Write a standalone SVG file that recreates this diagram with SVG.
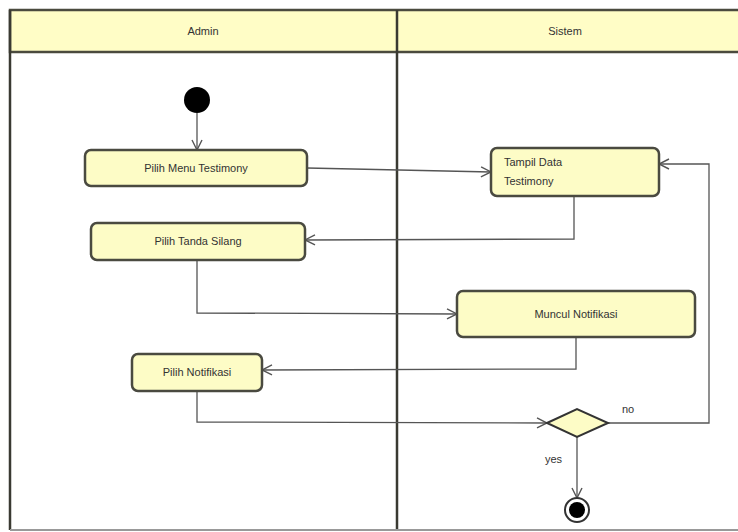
<svg xmlns="http://www.w3.org/2000/svg" width="738" height="532" viewBox="0 0 738 532">
<style>
.lane{fill:none;stroke:#3a3a32;stroke-width:2.5}
.hdr{fill:#fffdc6;stroke:#4a4a3e;stroke-width:2.5}
.act{fill:#fdfcc6;stroke:#4a4a40;stroke-width:2.5}
.t{font-family:"Liberation Sans",Arial,sans-serif;font-size:11px;fill:#333}
.c{fill:none;stroke:#555;stroke-width:1.3}
</style>
<defs>
<marker id="ah" viewBox="0 0 12 12" refX="11" refY="6" markerWidth="12" markerHeight="12" markerUnits="userSpaceOnUse" orient="auto">
<path d="M1,1 L11,6 L1,11" fill="none" stroke="#555" stroke-width="1.4"/>
</marker>
</defs>
<rect x="0" y="0" width="738" height="532" fill="#ffffff"/>
<g id="lanes">
<rect class="hdr" x="10" y="10" width="740" height="42"/>
<line class="lane" x1="10" y1="10" x2="10" y2="530"/>
<line class="lane" x1="397" y1="10" x2="397" y2="530"/>
<line x1="10" y1="530" x2="738" y2="530" stroke="#999" stroke-width="2"/>
<text class="t" x="203" y="35" text-anchor="middle">Admin</text>
<text class="t" x="565" y="35" text-anchor="middle">Sistem</text>
</g>
<g id="connectors">
<line class="c" x1="197" y1="113" x2="197" y2="150" marker-end="url(#ah)"/>
<polyline class="c" points="307,168 491,172" marker-end="url(#ah)"/>
<polyline class="c" points="574,196 574,239 305,240" marker-end="url(#ah)"/>
<polyline class="c" points="197,260 197,313 457,314" marker-end="url(#ah)"/>
<polyline class="c" points="576,337 576,369 262,370" marker-end="url(#ah)"/>
<polyline class="c" points="197,391 197,422 547,423" marker-end="url(#ah)"/>
<polyline class="c" points="608,423 709,423 709,164 659,164" marker-end="url(#ah)"/>
<line class="c" x1="577" y1="437" x2="577" y2="498" marker-end="url(#ah)"/>
<text class="t" x="622" y="413">no</text>
<text class="t" x="545" y="463">yes</text>
</g>
<g id="start"><circle cx="197" cy="100" r="13" fill="#000"/></g>
<g id="pilih-menu">
<rect class="act" x="85" y="150" width="222" height="36" rx="6"/>
<text class="t" x="196" y="172" text-anchor="middle">Pilih Menu Testimony</text>
</g>
<g id="tampil-data">
<rect class="act" x="491" y="148" width="168" height="48" rx="6"/>
<text class="t" x="504" y="166">Tampil Data</text>
<text class="t" x="504" y="185">Testimony</text>
</g>
<g id="pilih-tanda">
<rect class="act" x="91" y="223" width="214" height="37" rx="6"/>
<text class="t" x="198" y="245" text-anchor="middle">Pilih Tanda Silang</text>
</g>
<g id="muncul">
<rect class="act" x="457" y="291" width="238" height="46" rx="6"/>
<text class="t" x="576" y="318" text-anchor="middle">Muncul Notifikasi</text>
</g>
<g id="pilih-notif">
<rect class="act" x="132" y="354" width="130" height="37" rx="6"/>
<text class="t" x="197" y="376" text-anchor="middle">Pilih Notifikasi</text>
</g>
<g id="decision">
<polygon points="547,423 577,409 608,423 577,437" fill="#fdfcc6" stroke="#333" stroke-width="2"/>
</g>
<g id="end">
<circle cx="577" cy="510" r="12" fill="#fff" stroke="#333" stroke-width="2"/>
<circle cx="577" cy="510" r="8" fill="#000"/>
</g>
</svg>
